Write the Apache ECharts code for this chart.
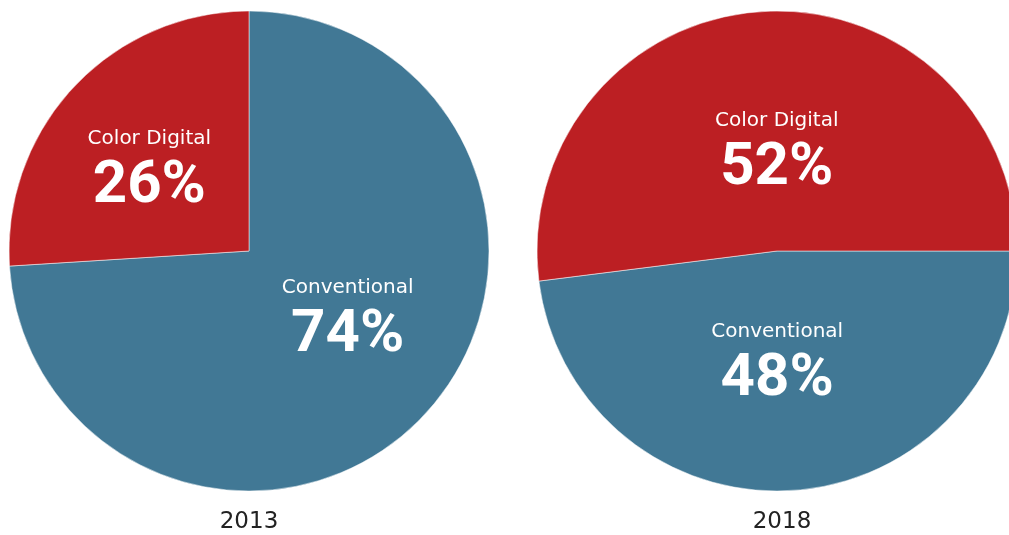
<!DOCTYPE html>
<html>
<head>
<meta charset="utf-8">
<script src="https://cdn.jsdelivr.net/npm/echarts@6/dist/echarts.min.js"></script>
<style>
html,body{margin:0;padding:0;background:#fff;}
#chart{width:1009px;height:535px;}
</style>
</head>
<body>
<div id="chart"></div>
<script>
const categories = ['Conventional', 'Color Digital'];
const years = ['2013', '2018'];
const share2013 = [74, 26];
const share2018 = [48, 52];

const colors = ['#417895', '#BC1F23'];
const chart = echarts.init(document.getElementById('chart'), null, {renderer: 'canvas'});

function mkData(vals) {
  return categories.map((c, i) => ({name: c, value: vals[i], itemStyle: {color: colors[i]}}));
}

const labelCfg = {
  show: true,
  position: 'inside',
  formatter: '{n|{b}}\n{v|{c}%}',
  color: '#fff',
  rich: {
    n: {fontFamily: 'DejaVu Sans', fontSize: 20, lineHeight: 26, color: '#fff', align: 'center'},
    v: {fontFamily: 'Roboto', fontWeight: 'bold', fontSize: 60, lineHeight: 70, color: '#fff', align: 'center'}
  }
};

const offsets = [
  [[9, -12], [-10, 7]],
  [[-7.5, -7], [7.5, 28]]
];

const centers = [[249, 251], [777, 251]];
const starts = [90, 0];
const series = [share2013, share2018].map((vals, k) => ({
  type: 'pie',
  name: years[k],
  center: centers[k],
  radius: [0, 240],
  startAngle: starts[k],
  clockwise: true,
  silent: true,
  animation: false,
  avoidLabelOverlap: false,
  itemStyle: {borderColor: '#fff', borderWidth: 0.5},
  label: labelCfg,
  labelLine: {show: false},
  labelLayout: function (p) {
    const o = offsets[k][p.dataIndex];
    return {dx: o[0], dy: o[1]};
  },
  data: mkData(vals)
}));

chart.setOption({
  animation: false,
  series: series,
  graphic: years.map((y, k) => ({
    type: 'text',
    x: centers[k][0] + (k === 1 ? 5 : 0),
    y: 522,
    style: {text: y, fontFamily: 'DejaVu Sans', fontSize: 23, fill: '#222', textAlign: 'center', textVerticalAlign: 'middle'}
  }))
});
</script>
</body>
</html>
